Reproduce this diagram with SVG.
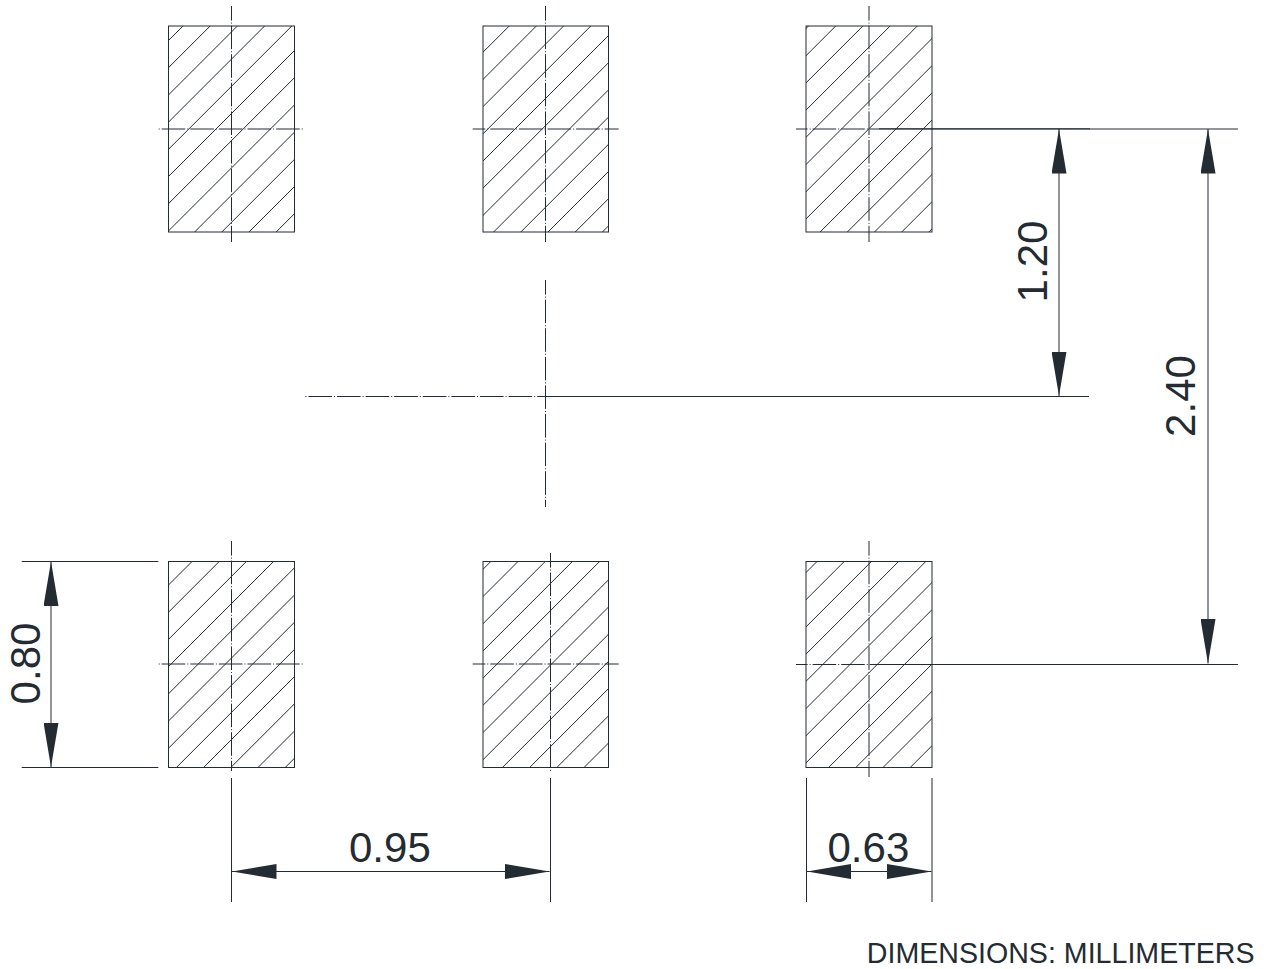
<svg xmlns="http://www.w3.org/2000/svg" width="1277" height="969" viewBox="0 0 1277 969">
<style>
.o{fill:none;stroke:#232b33;stroke-width:1}
.h{fill:none;stroke:#232b33;stroke-width:1}
.c{fill:none;stroke:#232b33;stroke-width:1;stroke-dasharray:23.6 2 1 2}
.l{fill:none;stroke:#232b33;stroke-width:1}
.d{fill:none;stroke:#232b33;stroke-width:1;marker-start:url(#arrow);marker-end:url(#arrow)}
text{font-family:"Liberation Sans",Arial,sans-serif;fill:#232b33;font-size:42px}
</style>
<defs>
<marker id="arrow" viewBox="0 0 44.5 15" markerUnits="userSpaceOnUse" markerWidth="44.5" markerHeight="15" refX="44.5" refY="7.5" orient="auto-start-reverse"><path d="M0 0L44.5 7.5L0 15z" fill="#232b33"/></marker>
<clipPath id="padclip"><rect x="0" y="0" width="126" height="206"/></clipPath>
<path id="hatch" class="h" d="M0 0l-340 340M27.2 0l-340 340M54.4 0l-340 340M81.6 0l-340 340M108.8 0l-340 340M136 0l-340 340M163.2 0l-340 340M190.4 0l-340 340M217.6 0l-340 340M244.8 0l-340 340M272 0l-340 340M299.2 0l-340 340M326.4 0l-340 340M353.6 0l-340 340"/>
</defs>
<rect width="1277" height="969" fill="#fff"/>
<g id="pad-top-1" transform="translate(168.5 26)"><g clip-path="url(#padclip)"><use href="#hatch" x="14.5"/></g><rect class="o" width="126" height="206"/></g>
<g id="pad-top-2" transform="translate(483 26)"><g clip-path="url(#padclip)"><use href="#hatch" x="26.2"/></g><rect class="o" width="125.5" height="206"/></g>
<g id="pad-top-3" transform="translate(806 26)"><g clip-path="url(#padclip)"><use href="#hatch" x="2.5"/></g><rect class="o" width="126" height="206"/></g>
<g id="pad-bottom-1" transform="translate(168.5 561.5)"><g clip-path="url(#padclip)"><use href="#hatch" x="23.5"/></g><rect class="o" width="126" height="206"/></g>
<g id="pad-bottom-2" transform="translate(483 561.5)"><g clip-path="url(#padclip)"><use href="#hatch" x="7.8"/></g><rect class="o" width="125.5" height="206"/></g>
<g id="pad-bottom-3" transform="translate(806 561.5)"><g clip-path="url(#padclip)"><use href="#hatch" x="11"/></g><rect class="o" width="126" height="206"/></g>
<g id="centerlines">
<line class="c" x1="231.5" y1="6" x2="231.5" y2="242" stroke-dashoffset="9"/>
<line class="c" x1="545.5" y1="6" x2="545.5" y2="242" stroke-dashoffset="9"/>
<line class="c" x1="869" y1="6" x2="869" y2="242" stroke-dashoffset="9"/>
<line class="c" x1="158.3" y1="129" x2="304.3" y2="129" stroke-dashoffset="-3.4"/>
<line class="c" x1="472.7" y1="129" x2="618.7" y2="129" stroke-dashoffset="11"/>
<line class="c" x1="796" y1="129" x2="879" y2="129" stroke-dashoffset="12"/>
<line class="c" x1="231.5" y1="541" x2="231.5" y2="771" stroke-dashoffset="9"/>
<line class="c" x1="550.5" y1="553" x2="550.5" y2="771" stroke-dashoffset="9"/>
<line class="c" x1="869" y1="541" x2="869" y2="777" stroke-dashoffset="9"/>
<line class="c" x1="158.3" y1="664" x2="304.3" y2="664" stroke-dashoffset="-3.4"/>
<line class="c" x1="472.7" y1="664" x2="618.7" y2="664" stroke-dashoffset="11"/>
<line class="c" x1="796" y1="664.5" x2="942" y2="664.5" stroke-dashoffset="12"/>
<line class="c" x1="545.5" y1="280" x2="545.5" y2="507" stroke-dashoffset="9"/>
<line class="c" x1="305" y1="396.5" x2="758" y2="396.5" stroke-dashoffset="-3.4"/>
</g>
<g id="connectors">
<line class="l" x1="879" y1="129" x2="1238" y2="129"/>
<line class="l" x1="879" y1="128.8" x2="1090" y2="128.8"/>
<line class="l" x1="870" y1="664.5" x2="1238" y2="664.5"/>
<line class="l" x1="555" y1="396.5" x2="1089" y2="396.5"/>
<line class="l" x1="21.7" y1="561.5" x2="158.3" y2="561.5"/>
<line class="l" x1="21.7" y1="767.5" x2="158.3" y2="767.5"/>
<line class="l" x1="231.5" y1="778" x2="231.5" y2="902"/>
<line class="l" x1="550.5" y1="778" x2="550.5" y2="902"/>
<line class="l" x1="806.5" y1="778" x2="806.5" y2="902"/>
<line class="l" x1="932" y1="778" x2="932" y2="902"/>
<line class="d" x1="1059" y1="129" x2="1059" y2="396"/>
<line class="d" x1="1208" y1="129" x2="1208" y2="663.5"/>
<line class="d" x1="51" y1="561.5" x2="51" y2="767"/>
<line class="d" x1="232" y1="871.5" x2="549.5" y2="871.5"/>
<line class="d" x1="806.5" y1="871.5" x2="931.5" y2="871.5"/>
</g>
<g id="labels">
<text x="349" y="861.5">0.95</text>
<text x="827.5" y="861.5">0.63</text>
<text transform="translate(39.5 663.5) rotate(-90)" text-anchor="middle">0.80</text>
<text transform="translate(1046.5 261.5) rotate(-90)" text-anchor="middle">1.20</text>
<text transform="translate(1194.5 396) rotate(-90)" text-anchor="middle">2.40</text>
<text x="1254.5" y="963" text-anchor="end" style="font-size:28.6px">DIMENSIONS: MILLIMETERS</text>
</g>
</svg>
